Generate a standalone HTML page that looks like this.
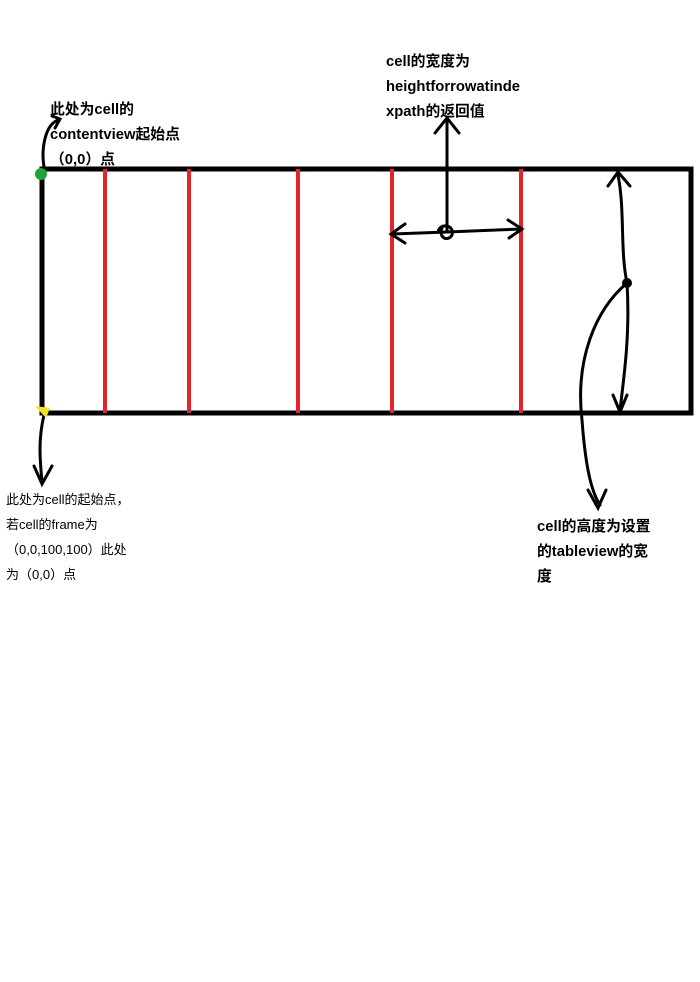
<!DOCTYPE html>
<html><head><meta charset="utf-8"><style>
body{margin:0;width:700px;height:982px;background:#fff;overflow:hidden;position:relative;font-family:"Liberation Sans","Noto Sans CJK SC",sans-serif;}
.t{position:absolute;font-size:13px;line-height:25px;color:#000;white-space:nowrap}
.b{font-weight:bold;font-size:14.8px}
svg{position:absolute;left:0;top:0}
</style></head><body>
<svg width="700" height="982">
<rect x="42" y="169" width="649" height="244" fill="none" stroke="#000" stroke-width="5"/>
<g stroke="#e0262b" stroke-width="4">
<line x1="105" y1="169" x2="105" y2="413"/><line x1="189" y1="169" x2="189" y2="413"/>
<line x1="298" y1="169" x2="298" y2="413"/><line x1="392" y1="169" x2="392" y2="413"/>
<line x1="521" y1="169" x2="521" y2="413"/>
</g>
<g fill="none" stroke="#000" stroke-width="3" stroke-linecap="round">
<path d="M45 172 C40 150 45 125 58 120 M52 116 L60 119 L55 128"/>
<path d="M44 415 C38 440 40 460 42 482 M34 466 L42 484 L52 466"/>
<path d="M447 232 L447 120 M435 133 L447 118 L459 133"/>
<path d="M447 232 L393 234 M405 224 L391 234 L405 243"/>
<path d="M447 232 L521 229 M508 220 L522 229 L509 238"/>
<path d="M438 232 C440 222 455 225 452 235 C448 242 438 238 442 228"/>
<path d="M627 283 C620 250 625 210 618 175 M608 186 L618 172 L630 186"/>
<path d="M627 283 C630 330 625 370 620 410 M613 395 L620 412 L627 395"/>
<path d="M627 283 C595 310 575 360 582 420 C585 460 590 490 600 505 M588 490 L598 508 L606 490"/>
</g>
<circle cx="41" cy="174" r="6" fill="#22a03a"/>
<path d="M35 406 L50 408 L46 418 Z" fill="#f5e12a"/>
<circle cx="627" cy="283" r="5" fill="#000"/>
</svg>
<div class="t b" style="left:50px;top:98px">此处为cell的<br>contentview起始点<br>（0,0）点</div>
<div class="t b" style="left:386px;top:50px">cell的宽度为<br>heightforrowatinde<br>xpath的返回值</div>
<div class="t" style="left:6px;top:487px">此处为cell的起始点，<br>若cell的frame为<br>（0,0,100,100）此处<br>为（0,0）点</div>
<div class="t b" style="left:537px;top:515px">cell的高度为设置<br>的tableview的宽<br>度</div>
</body></html>
